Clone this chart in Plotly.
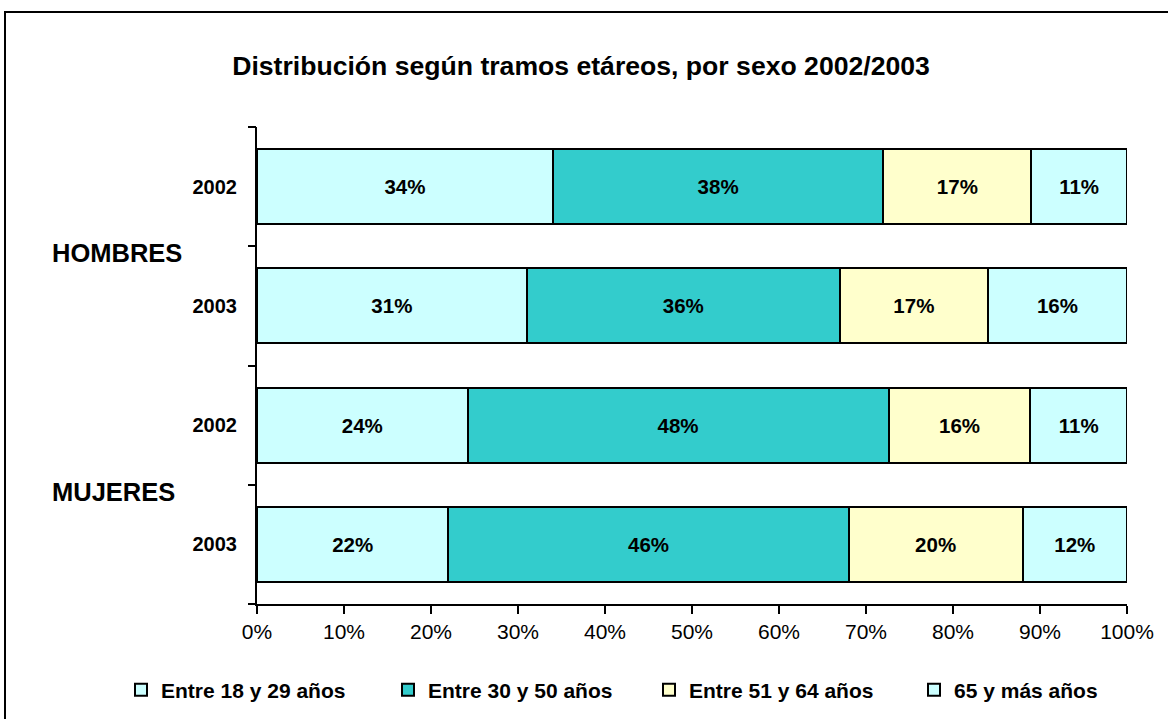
import plotly.graph_objects as go

# ---- data ----
rows = ["H2002", "H2003", "M2002", "M2003"]
row_labels = ["2002", "2003", "2002", "2003"]
groups = ["HOMBRES", "MUJERES"]
series_names = ["Entre 18 y 29 años", "Entre 30 y 50 años", "Entre 51 y 64 años", "65 y más años"]
s_18_29 = [34.0, 31.0, 24.2, 22.0]
s_30_50 = [38.0, 36.0, 48.4, 46.0]
s_51_64 = [17.0, 17.0, 16.3, 20.0]
s_65 = [11.0, 16.0, 11.1, 12.0]
x_ticks = [0, 10, 20, 30, 40, 50, 60, 70, 80, 90, 100]
title_text = "Distribución según tramos etáreos, por sexo 2002/2003"

colors = ["#CCFFFF", "#33CCCC", "#FFFFCC", "#CCFFFF"]
FONT = "Liberation Sans, Arial, sans-serif"
legend_x = [121, 388, 649, 914]  # pixel left of each legend entry

fig = go.Figure()
for i, (name, vals, col) in enumerate(zip(series_names, [s_18_29, s_30_50, s_51_64, s_65], colors)):
    lg = "legend" if i == 0 else f"legend{i + 1}"
    fig.add_trace(go.Bar(
        y=list(range(len(rows))), x=vals, name="<b>" + name + "</b>", orientation="h",
        marker=dict(color=col, line=dict(color="black", width=2)),
        width=0.63,
        text=[f"<b>{v:.0f}%</b>" for v in vals],
        textposition="inside", insidetextanchor="middle", textangle=0,
        constraintext="none",
        textfont=dict(family=FONT, size=20.5, color="black"),
        hoverinfo="skip", legend=lg,
    ))

# invisible trace for boundary ticks axis
fig.add_trace(go.Scatter(x=[None], y=[None], yaxis="y2", showlegend=False))

legend_common = dict(orientation="h", xref="container", yref="container",
                     xanchor="left", y=1 - 690 / 719, yanchor="middle",
                     font=dict(family=FONT, size=21, color="black"),
                     itemclick=False, bgcolor="rgba(0,0,0,0)")

fig.update_layout(
    width=1168, height=719,
    barmode="stack",
    plot_bgcolor="white", paper_bgcolor="white",
    margin=dict(l=257, r=41, t=127, b=115),
    font=dict(family=FONT, size=21, color="black"),
    title=dict(text="<b>" + title_text + "</b>", x=581 / 1168, xanchor="center",
               xref="container", yref="container", y=1 - 66 / 719, yanchor="middle",
               font=dict(family=FONT, size=26.6, color="black")),
    xaxis=dict(range=[0, 100], tickvals=x_ticks, ticktext=[f"{t}%" for t in x_ticks],
               showgrid=False, zeroline=False, showline=True, linecolor="black", linewidth=2,
               ticks="outside", ticklen=8, tickwidth=2, tickcolor="black",
               tickfont=dict(family=FONT, size=21), fixedrange=True),
    yaxis=dict(range=[3.5, -0.5], tickvals=list(range(len(rows))), ticktext=["<b>" + t + "</b>" for t in row_labels],
               showgrid=False, zeroline=False, showline=True, linecolor="black", linewidth=2,
               ticks="", ticklabelstandoff=14, tickfont=dict(family=FONT, size=20)),
    yaxis2=dict(range=[3.5, -0.5], overlaying="y", side="left",
                tickvals=[-0.5, 0.5, 1.5, 2.5, 3.5], showticklabels=False,
                ticks="outside", ticklen=8, tickwidth=2, tickcolor="black",
                showgrid=False, zeroline=False, showline=False),
    legend=dict(x=legend_x[0] / 1168, **legend_common),
    legend2=dict(x=legend_x[1] / 1168, **legend_common),
    legend3=dict(x=legend_x[2] / 1168, **legend_common),
    legend4=dict(x=legend_x[3] / 1168, **legend_common),
    showlegend=True,
)

# group labels
for g, pos in zip(groups, [0.5, 2.5]):
    fig.add_annotation(text="<b>" + g + "</b>", x=(50 - 257) / 870, xref="paper", xanchor="left",
                       y=pos, yref="y", yanchor="middle", yshift=-7, showarrow=False,
                       font=dict(family=FONT, size=25.5, color="black"))

# outer border of the chart area
fig.add_shape(type="rect", xref="paper", yref="paper",
              x0=(5 - 257) / 870, x1=1.2, y0=-0.4, y1=(604 - 12) / 477,
              line=dict(color="black", width=2), fillcolor="rgba(0,0,0,0)", layer="below")

fig.write_html("out.html", config={"displayModeBar": False},
               post_script="document.body.style.margin='0';document.body.style.overflow='hidden';")
